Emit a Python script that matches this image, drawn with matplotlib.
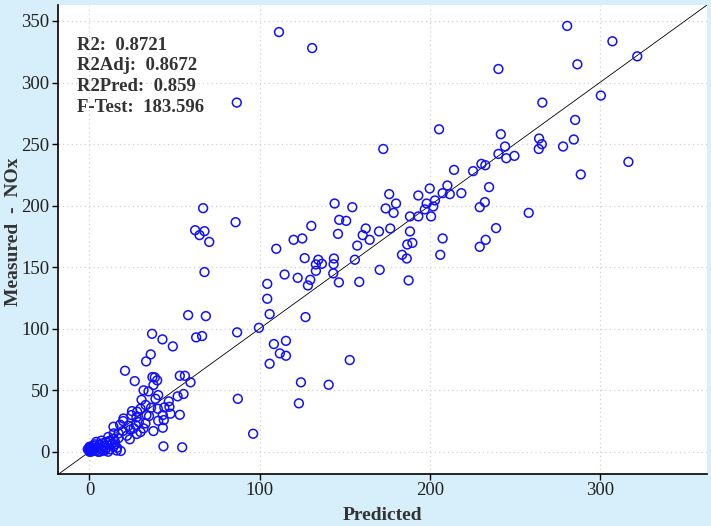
import matplotlib
matplotlib.use("Agg")
import matplotlib.pyplot as plt

predicted = [
    280.8, 307.4, 322.0, 286.8, 240.4, 300.6, 266.2, 285.5, 205.5, 241.8,
    264.3, 284.7, 265.9, 244.3, 278.4, 264.1, 172.7, 240.4, 249.8, 245.0,
    316.8, 230.4, 232.7, 214.3, 225.5, 288.8, 210.4, 234.9, 200.0, 176.2,
    207.6, 211.8, 218.6, 193.3, 180.2, 203.1, 198.2, 202.1, 174.1, 197.1,
    178.8, 229.4, 232.4, 258.2, 188.4, 193.3, 200.8, 154.5, 162.4, 170.2,
    176.8, 188.4, 160.6, 164.7, 157.4, 207.6, 239.0, 232.9, 229.4, 186.8,
    189.8, 183.7, 186.5, 206.2, 158.6, 170.6, 187.6, 153.0, 111.4, 130.9,
    86.6, 66.8, 85.9, 62.1, 67.6, 64.7, 70.4, 144.1, 146.8, 150.9,
    130.4, 146.1, 120.0, 125.1, 109.8, 126.5, 134.5, 143.7, 156.0, 133.1,
    136.6, 143.5, 133.1, 143.3, 114.7, 122.4, 129.8, 128.4, 146.6, 104.5,
    104.5, 105.9, 127.0, 99.6, 108.4, 115.5, 111.9, 115.5, 105.9, 124.3,
    140.6, 123.1, 67.6, 58.0, 68.4, 86.8, 62.7, 66.2, 36.8, 42.9,
    49.0, 36.0, 33.3, 20.9, 26.6, 37.0, 38.4, 39.8, 37.6, 53.1,
    56.1, 59.4, 31.8, 34.7, 40.4, 51.8, 55.3, 30.6, 38.8, 46.6,
    47.0, 36.2, 40.2, 28.0, 33.5, 43.1, 47.6, 53.1, 24.7, 27.6,
    40.4, 43.7, 32.9, 19.8, 27.2, 22.9, 14.1, 43.1, 31.8, 37.6,
    19.6, 14.3, 17.1, 27.8, 23.7, 14.1, 96.2, 43.5, 54.5, 18.4,
    16.2, 87.2,
    25.0, 30.0, 20.0, 24.0, 35.0, 29.0, 22.0, 17.0, 12.0, 15.0,
    11.0, 18.0, 26.0, 30.0, 33.0, 44.0,
    0.0, 0.0, 0.0, 0.0, 1.0, -1.0, 1.0, 2.0, 3.0, 2.0,
    4.0, 5.0, 6.0, 6.0, 7.0, 8.0, 9.0, 10.0, 10.0, 11.0,
    12.0, 13.0, 4.0, 3.0, 8.0, 5.0, 12.0, 14.0, 9.0, 7.0,
    1.0, 2.0, 0.0, 16.0, 15.0,
]

measured = [
    346.0, 333.5, 321.3, 314.8, 311.0, 289.4, 283.7, 269.6, 262.0, 258.0,
    254.5, 253.7, 249.9, 248.0, 248.0, 246.0, 246.0, 242.0, 240.4, 238.5,
    235.5, 233.9, 232.8, 229.0, 228.0, 225.3, 216.3, 215.0, 213.9, 209.3,
    210.1, 209.3, 210.1, 208.2, 201.7, 204.2, 201.7, 199.3, 197.7, 196.9,
    194.1, 198.7, 202.8, 194.1, 191.2, 191.2, 191.2, 198.7, 181.4, 179.0,
    181.4, 179.0, 176.0, 172.2, 167.5, 173.3, 181.7, 172.2, 166.5, 168.4,
    169.7, 160.0, 157.0, 160.0, 138.0, 147.8, 139.2, 74.5, 341.0, 328.0,
    283.7, 197.9, 186.5, 180.0, 179.2, 176.0, 170.5, 201.7, 188.4, 187.6,
    183.5, 177.0, 172.2, 173.3, 164.9, 157.3, 156.0, 157.0, 156.0, 152.2,
    152.7, 152.4, 147.0, 144.9, 144.0, 141.3, 139.7, 135.1, 137.6, 136.4,
    124.3, 111.8, 109.4, 100.7, 87.5, 90.1, 79.9, 78.0, 71.5, 56.4,
    54.4, 39.3, 146.0, 111.0, 110.2, 97.0, 92.9, 94.0, 95.8, 91.3,
    85.6, 79.1, 73.4, 65.8, 57.4, 60.7, 60.4, 58.0, 54.2, 61.7,
    61.7, 56.4, 49.9, 49.0, 46.0, 45.0, 46.9, 42.2, 43.0, 40.9,
    36.5, 35.7, 34.9, 32.5, 29.8, 29.8, 30.9, 30.0, 29.8, 27.9,
    25.2, 25.7, 23.0, 24.9, 21.7, 21.1, 20.3, 19.5, 19.0, 16.8,
    16.8, 14.9, 14.9, 14.4, 10.1, 10.6, 14.6, 4.4, 3.6, 0.6,
    3.2, 43.0,
    33.0, 35.0, 27.0, 18.0, 29.0, 24.0, 13.0, 11.0, 8.0, 6.0,
    12.0, 22.0, 19.0, 16.0, 38.0, 36.0,
    0.0, 1.0, 2.0, 3.0, 4.0, 2.0, 0.0, 1.0, 2.0, 5.0,
    1.0, 3.0, 0.0, 6.0, 2.0, 1.0, 5.0, 3.0, 8.0, 0.0,
    2.0, 6.0, 8.0, 6.0, 7.0, 0.0, 9.0, 4.0, 1.0, 9.0,
    1.0, 3.0, 4.0, 1.0, 8.0,
]

x_ticks = [0, 100, 200, 300]
y_ticks = [0, 50, 100, 150, 200, 250, 300, 350]
stats_labels = ["R2:  0.8721", "R2Adj:  0.8672", "R2Pred:  0.859", "F-Test:  183.596"]

SERIF = ["Liberation Serif", "DejaVu Serif"]
bg = "#d7effa"

fig = plt.figure(figsize=(7.11, 5.26), dpi=100, facecolor=bg)
ax = fig.add_axes([58 / 711, 1 - 474 / 526, (707 - 58) / 711, (474 - 5) / 526])
ax.set_facecolor("white")

ax.set_xlim(-18.5, 363)
ax.set_ylim(-18.1, 363)

ax.grid(True, color="#d0d0d0", linestyle=(0, (1, 2.5)), linewidth=0.9)
ax.set_axisbelow(True)

ax.axline((0, 0), slope=1, color="black", linewidth=0.6, zorder=2)

ax.scatter(predicted, measured, s=40, facecolors="none", edgecolors="#1010ff",
           linewidths=1.1, zorder=3)

ax.set_xticks(x_ticks)
ax.set_yticks(y_ticks)
for lbl in ax.get_xticklabels() + ax.get_yticklabels():
    lbl.set_fontfamily(SERIF)
    lbl.set_fontsize(13.5)
    lbl.set_color("#222222")
ax.tick_params(direction="out", length=4, width=1, color="black", pad=2)

for side in ["top", "right"]:
    ax.spines[side].set_visible(False)
for side in ["left", "bottom"]:
    ax.spines[side].set_linewidth(1.2)
    ax.spines[side].set_color("black")

fig.text(382 / 711, 1 - 515 / 526, "Predicted", fontfamily=SERIF, fontsize=14,
         fontweight="bold", color="#333333", ha="center", va="center")
fig.text(14 / 711, 1 - 232 / 526, "Measured  -  NOx", fontfamily=SERIF, fontsize=14,
         fontweight="bold", color="#333333", ha="center", va="center", rotation=90)

for i, s in enumerate(stats_labels):
    ax.text(77 / 711, 1 - (45 + i * 20.8) / 526, s, transform=fig.transFigure,
            fontfamily=SERIF, fontsize=13.5, fontweight="bold", color="#333333",
            va="center", ha="left")

fig.savefig("out.png", dpi=100, facecolor=bg)
